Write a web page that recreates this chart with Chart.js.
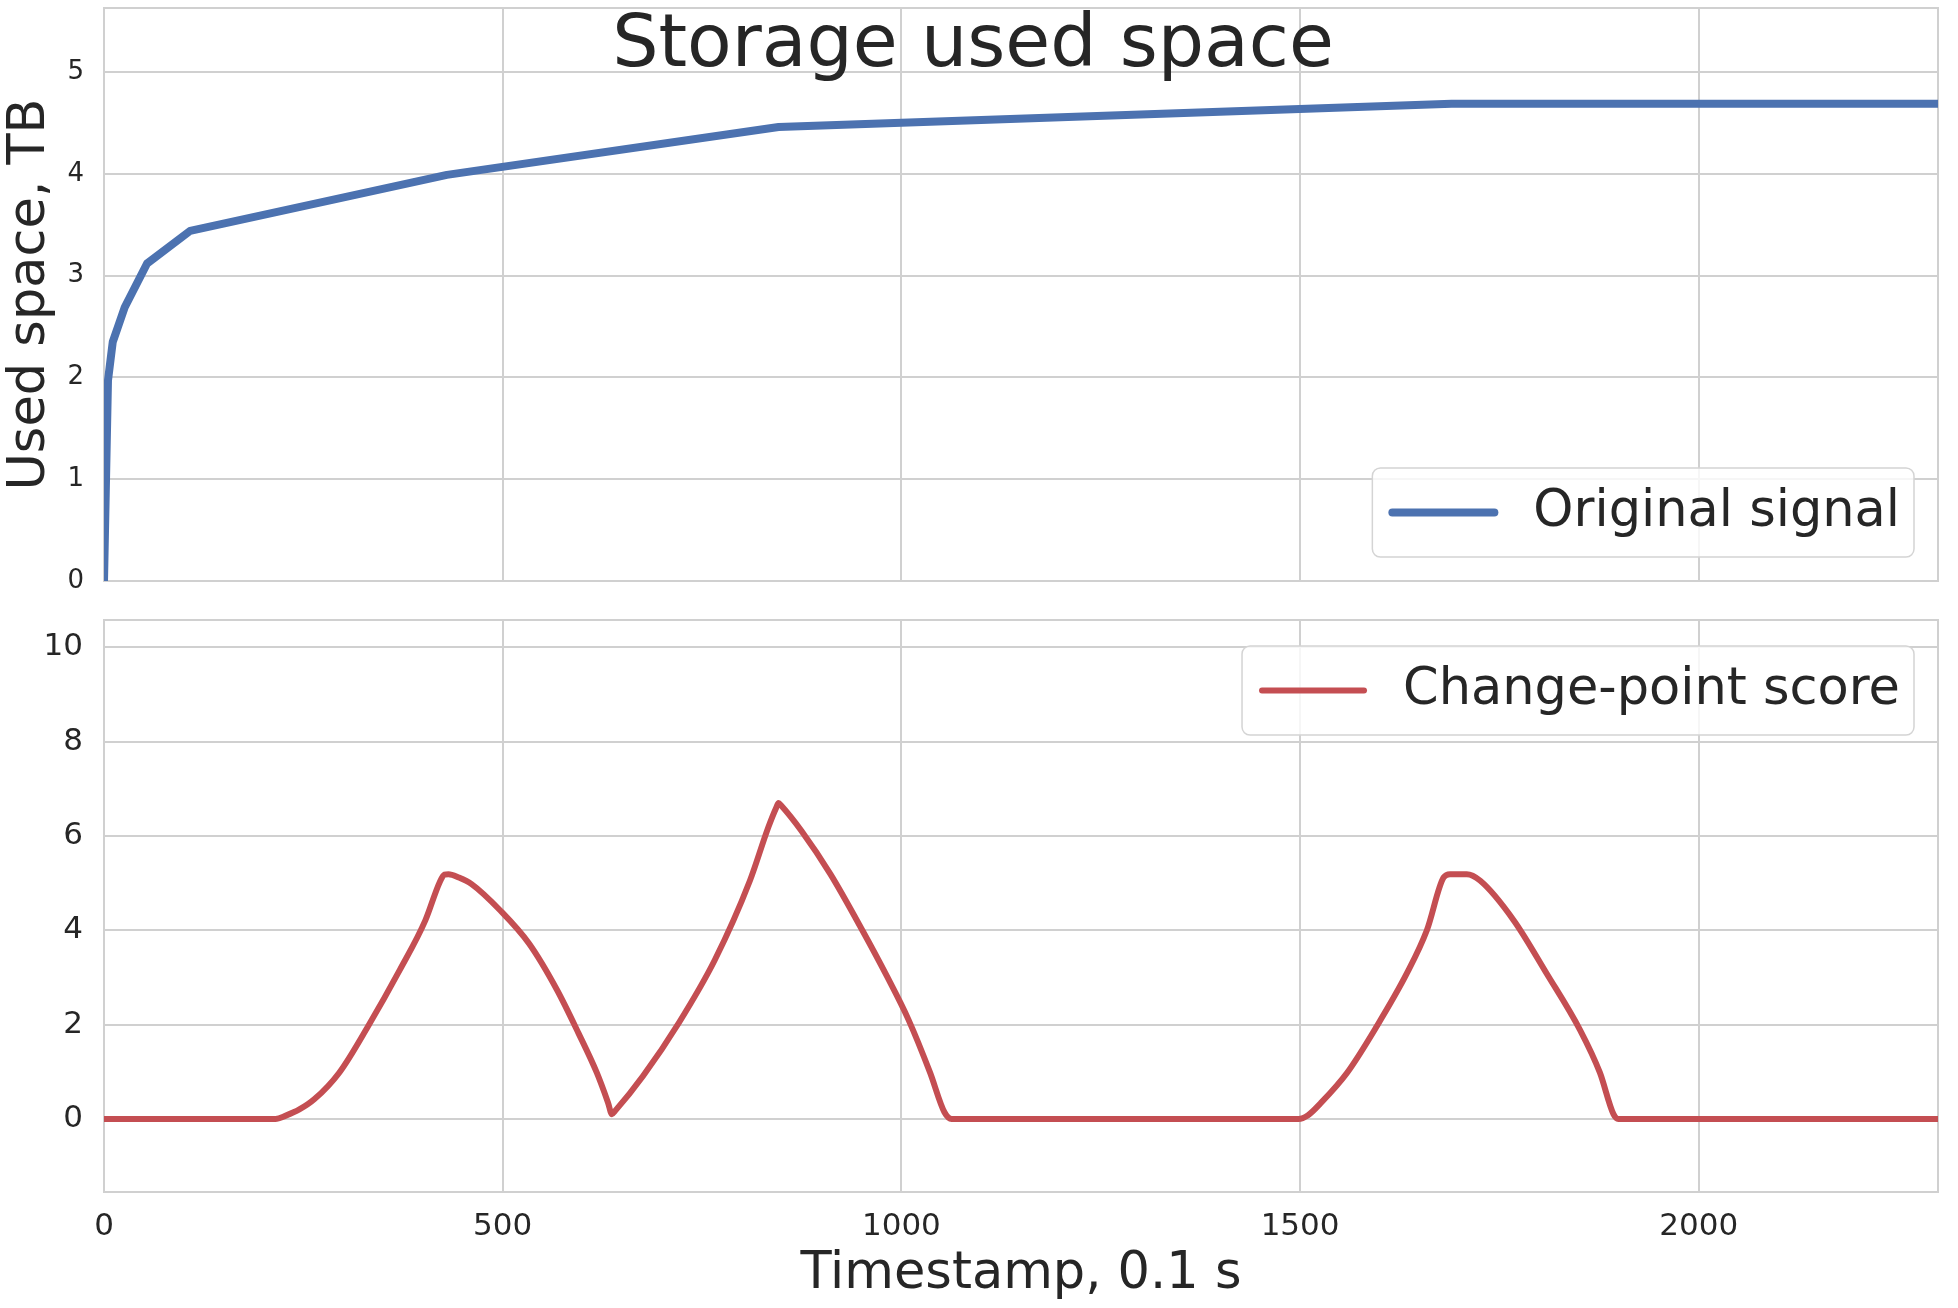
<!DOCTYPE html>
<html>
<head>
<meta charset="utf-8">
<title>Storage used space</title>
<script src="https://cdn.jsdelivr.net/npm/chart.js@4/dist/chart.umd.min.js"></script>
<style>
    html, body { margin: 0; padding: 0; background: #ffffff; }
    body { width: 1958px; height: 1308px; position: relative; overflow: hidden; }
    .panel { position: absolute; left: 0; width: 1958px; }
    #top-panel { top: 0; height: 600px; }
    #bottom-panel { top: 600px; height: 708px; }
</style>
</head>
<body>
<div class="panel" id="top-panel"><canvas id="signalChart"></canvas></div>
<div class="panel" id="bottom-panel"><canvas id="scoreChart"></canvas></div>
<script>
// Data
const chartTitle = 'Storage used space';

const signalX = [0, 5, 11, 26, 54, 108, 430, 846, 1690, 2300];
const signalY = [0, 1.97, 2.35, 2.69, 3.12, 3.44, 3.99, 4.46, 4.69, 4.69];

const scoreX = [0, 215, 228, 245, 264, 295, 331, 371, 403, 421, 427, 432, 445, 461, 497, 533, 568, 595, 618, 632, 637, 641,
    676, 721, 766, 810, 833, 843, 846, 849, 875, 911, 951, 982, 1009, 1036, 1054, 1063,
    1498, 1510, 1525, 1559, 1596, 1634, 1659, 1680, 1688, 1709, 1726, 1768, 1809, 1851, 1876, 1893, 1899, 2300];
const scoreY = [0, 0, 0.07, 0.2, 0.42, 0.98, 1.96, 3.16, 4.21, 5.02, 5.18, 5.19, 5.12, 4.98, 4.42, 3.72, 2.74, 1.82, 0.98, 0.35, 0.1, 0.17,
    0.91, 2.04, 3.37, 5.05, 6.18, 6.6, 6.7, 6.65, 6.1, 5.19, 4.0, 3.02, 2.1, 0.98, 0.14, 0,
    0, 0.08, 0.32, 0.98, 1.96, 3.09, 4.0, 5.12, 5.19, 5.19, 5.05, 4.21, 3.09, 1.89, 0.98, 0.1, 0, 0];

const xTicks = [0, 500, 1000, 1500, 2000];
const signalTicks = [0, 1, 2, 3, 4, 5];
const scoreTicks = [0, 2, 4, 6, 8, 10];

const TEXT_COLOR = '#262626';
const GRID_COLOR = '#d0d0d0';
const BLUE = '#4c72b0';
const RED = '#c44e52';

Chart.defaults.font.family = "'DejaVu Sans', sans-serif";
Chart.defaults.color = TEXT_COLOR;

// Box round the plot area (seaborn whitegrid spines)
const framePlugin = {
    id: 'frame',
    beforeDatasetsDraw(chart) {
        const { ctx, chartArea: a } = chart;
        ctx.save();
        ctx.strokeStyle = GRID_COLOR;
        ctx.lineWidth = 2;
        ctx.strokeRect(a.left, a.top, a.right - a.left, a.bottom - a.top);
        ctx.restore();
    }
};

// Matplotlib-like legend drawn inside the plot area
const insideLegend = {
    id: 'insideLegend',
    afterDraw(chart, args, opts) {
        const { ctx, chartArea: a } = chart;
        const ds = chart.data.datasets[0];
        ctx.save();
        ctx.font = "51px 'DejaVu Sans'";
        const textW = ctx.measureText(ds.label).width;
        const w = 161 + textW + 14;
        const h = 89;
        const x = a.right - 24 - w;
        const y = opts.corner === 'top' ? a.top + 26 : a.bottom - 24 - h;
        ctx.beginPath();
        ctx.roundRect(x, y, w, h, 8);
        ctx.fillStyle = 'rgba(255, 255, 255, 0.8)';
        ctx.fill();
        ctx.strokeStyle = '#d4d4d4';
        ctx.lineWidth = 1.5;
        ctx.stroke();
        const cy = y + h / 2;
        ctx.beginPath();
        ctx.moveTo(x + 20, cy);
        ctx.lineTo(x + 122, cy);
        ctx.strokeStyle = ds.borderColor;
        ctx.lineWidth = ds.borderWidth;
        ctx.lineCap = 'round';
        ctx.stroke();
        ctx.fillStyle = TEXT_COLOR;
        ctx.textBaseline = 'middle';
        ctx.textAlign = 'left';
        ctx.fillText(ds.label, x + 161, cy);
        ctx.restore();
    }
};

// Figure title, sits over the top of the upper panel
const figureTitle = {
    id: 'figureTitle',
    afterDraw(chart) {
        const ctx = chart.ctx;
        ctx.save();
        ctx.font = "73px 'DejaVu Sans'";
        ctx.fillStyle = TEXT_COLOR;
        ctx.textAlign = 'center';
        ctx.textBaseline = 'alphabetic';
        ctx.fillText(chartTitle, 973, 66);
        ctx.restore();
    }
};

function points(xs, ys) {
    return xs.map((x, i) => ({ x: x, y: ys[i] }));
}

function gridOpts() {
    return { color: GRID_COLOR, lineWidth: 2, drawTicks: false };
}

// fixed axis sizes, and no extra room for the end labels
function fixWidth(w) {
    return axis => {
        axis.width = w;
        axis.paddingTop = 0;
        axis.paddingBottom = 0;
    };
}

function fixHeight(h) {
    return axis => {
        axis.height = h;
        axis.paddingLeft = 0;
        axis.paddingRight = 0;
    };
}

// Upper panel: original signal
new Chart(document.getElementById('signalChart'), {
    type: 'line',
    data: {
        datasets: [{
            label: 'Original signal',
            data: points(signalX, signalY),
            borderColor: BLUE,
            borderWidth: 8,
            borderCapStyle: 'round',
            borderJoinStyle: 'round',
            pointRadius: 0,
            tension: 0,
            fill: false
        }]
    },
    options: {
        responsive: true,
        maintainAspectRatio: false,
        animation: false,
        layout: { padding: { top: 8, right: 20, left: 0, bottom: 0 } },
        scales: {
            x: {
                type: 'linear',
                min: 0,
                max: 2300,
                grid: gridOpts(),
                border: { display: false },
                ticks: { display: false },
                afterBuildTicks: axis => { axis.ticks = xTicks.map(v => ({ value: v })); },
                afterFit: fixHeight(19)
            },
            y: {
                min: 0,
                max: 5.63,
                grid: gridOpts(),
                border: { display: false },
                ticks: { font: { size: 26 }, color: TEXT_COLOR, padding: 20 },
                afterBuildTicks: axis => { axis.ticks = signalTicks.map(v => ({ value: v })); },
                title: {
                    display: true,
                    text: 'Used space, TB',
                    color: TEXT_COLOR,
                    font: { size: 51, lineHeight: 1 },
                    padding: { top: 5, bottom: 0 }
                },
                afterFit: fixWidth(104)
            }
        },
        plugins: {
            legend: { display: false },
            tooltip: { enabled: false },
            insideLegend: { corner: 'bottom' }
        }
    },
    plugins: [framePlugin, insideLegend, figureTitle]
});

// Lower panel: change-point score
new Chart(document.getElementById('scoreChart'), {
    type: 'line',
    data: {
        datasets: [{
            label: 'Change-point score',
            data: points(scoreX, scoreY),
            borderColor: RED,
            borderWidth: 6,
            borderCapStyle: 'round',
            borderJoinStyle: 'round',
            pointRadius: 0,
            cubicInterpolationMode: 'monotone',
            fill: false
        }]
    },
    options: {
        responsive: true,
        maintainAspectRatio: false,
        animation: false,
        layout: { padding: { top: 20, right: 20, left: 0, bottom: 0 } },
        scales: {
            x: {
                type: 'linear',
                min: 0,
                max: 2300,
                grid: gridOpts(),
                border: { display: false },
                ticks: {
                    font: { size: 31 },
                    color: TEXT_COLOR,
                    padding: 16,
                    maxRotation: 0,
                    callback: v => String(v)
                },
                afterBuildTicks: axis => { axis.ticks = xTicks.map(v => ({ value: v })); },
                title: {
                    display: true,
                    text: 'Timestamp, 0.1 s',
                    color: TEXT_COLOR,
                    font: { size: 51, lineHeight: 1 },
                    padding: { top: 0, bottom: 8 }
                },
                afterFit: fixHeight(116)
            },
            y: {
                min: -1.55,
                max: 10.58,
                grid: gridOpts(),
                border: { display: false },
                ticks: { font: { size: 31 }, color: TEXT_COLOR, padding: 21 },
                afterBuildTicks: axis => { axis.ticks = scoreTicks.map(v => ({ value: v })); },
                afterFit: fixWidth(104)
            }
        },
        plugins: {
            legend: { display: false },
            tooltip: { enabled: false },
            insideLegend: { corner: 'top' }
        }
    },
    plugins: [framePlugin, insideLegend]
});
</script>
</body>
</html>
